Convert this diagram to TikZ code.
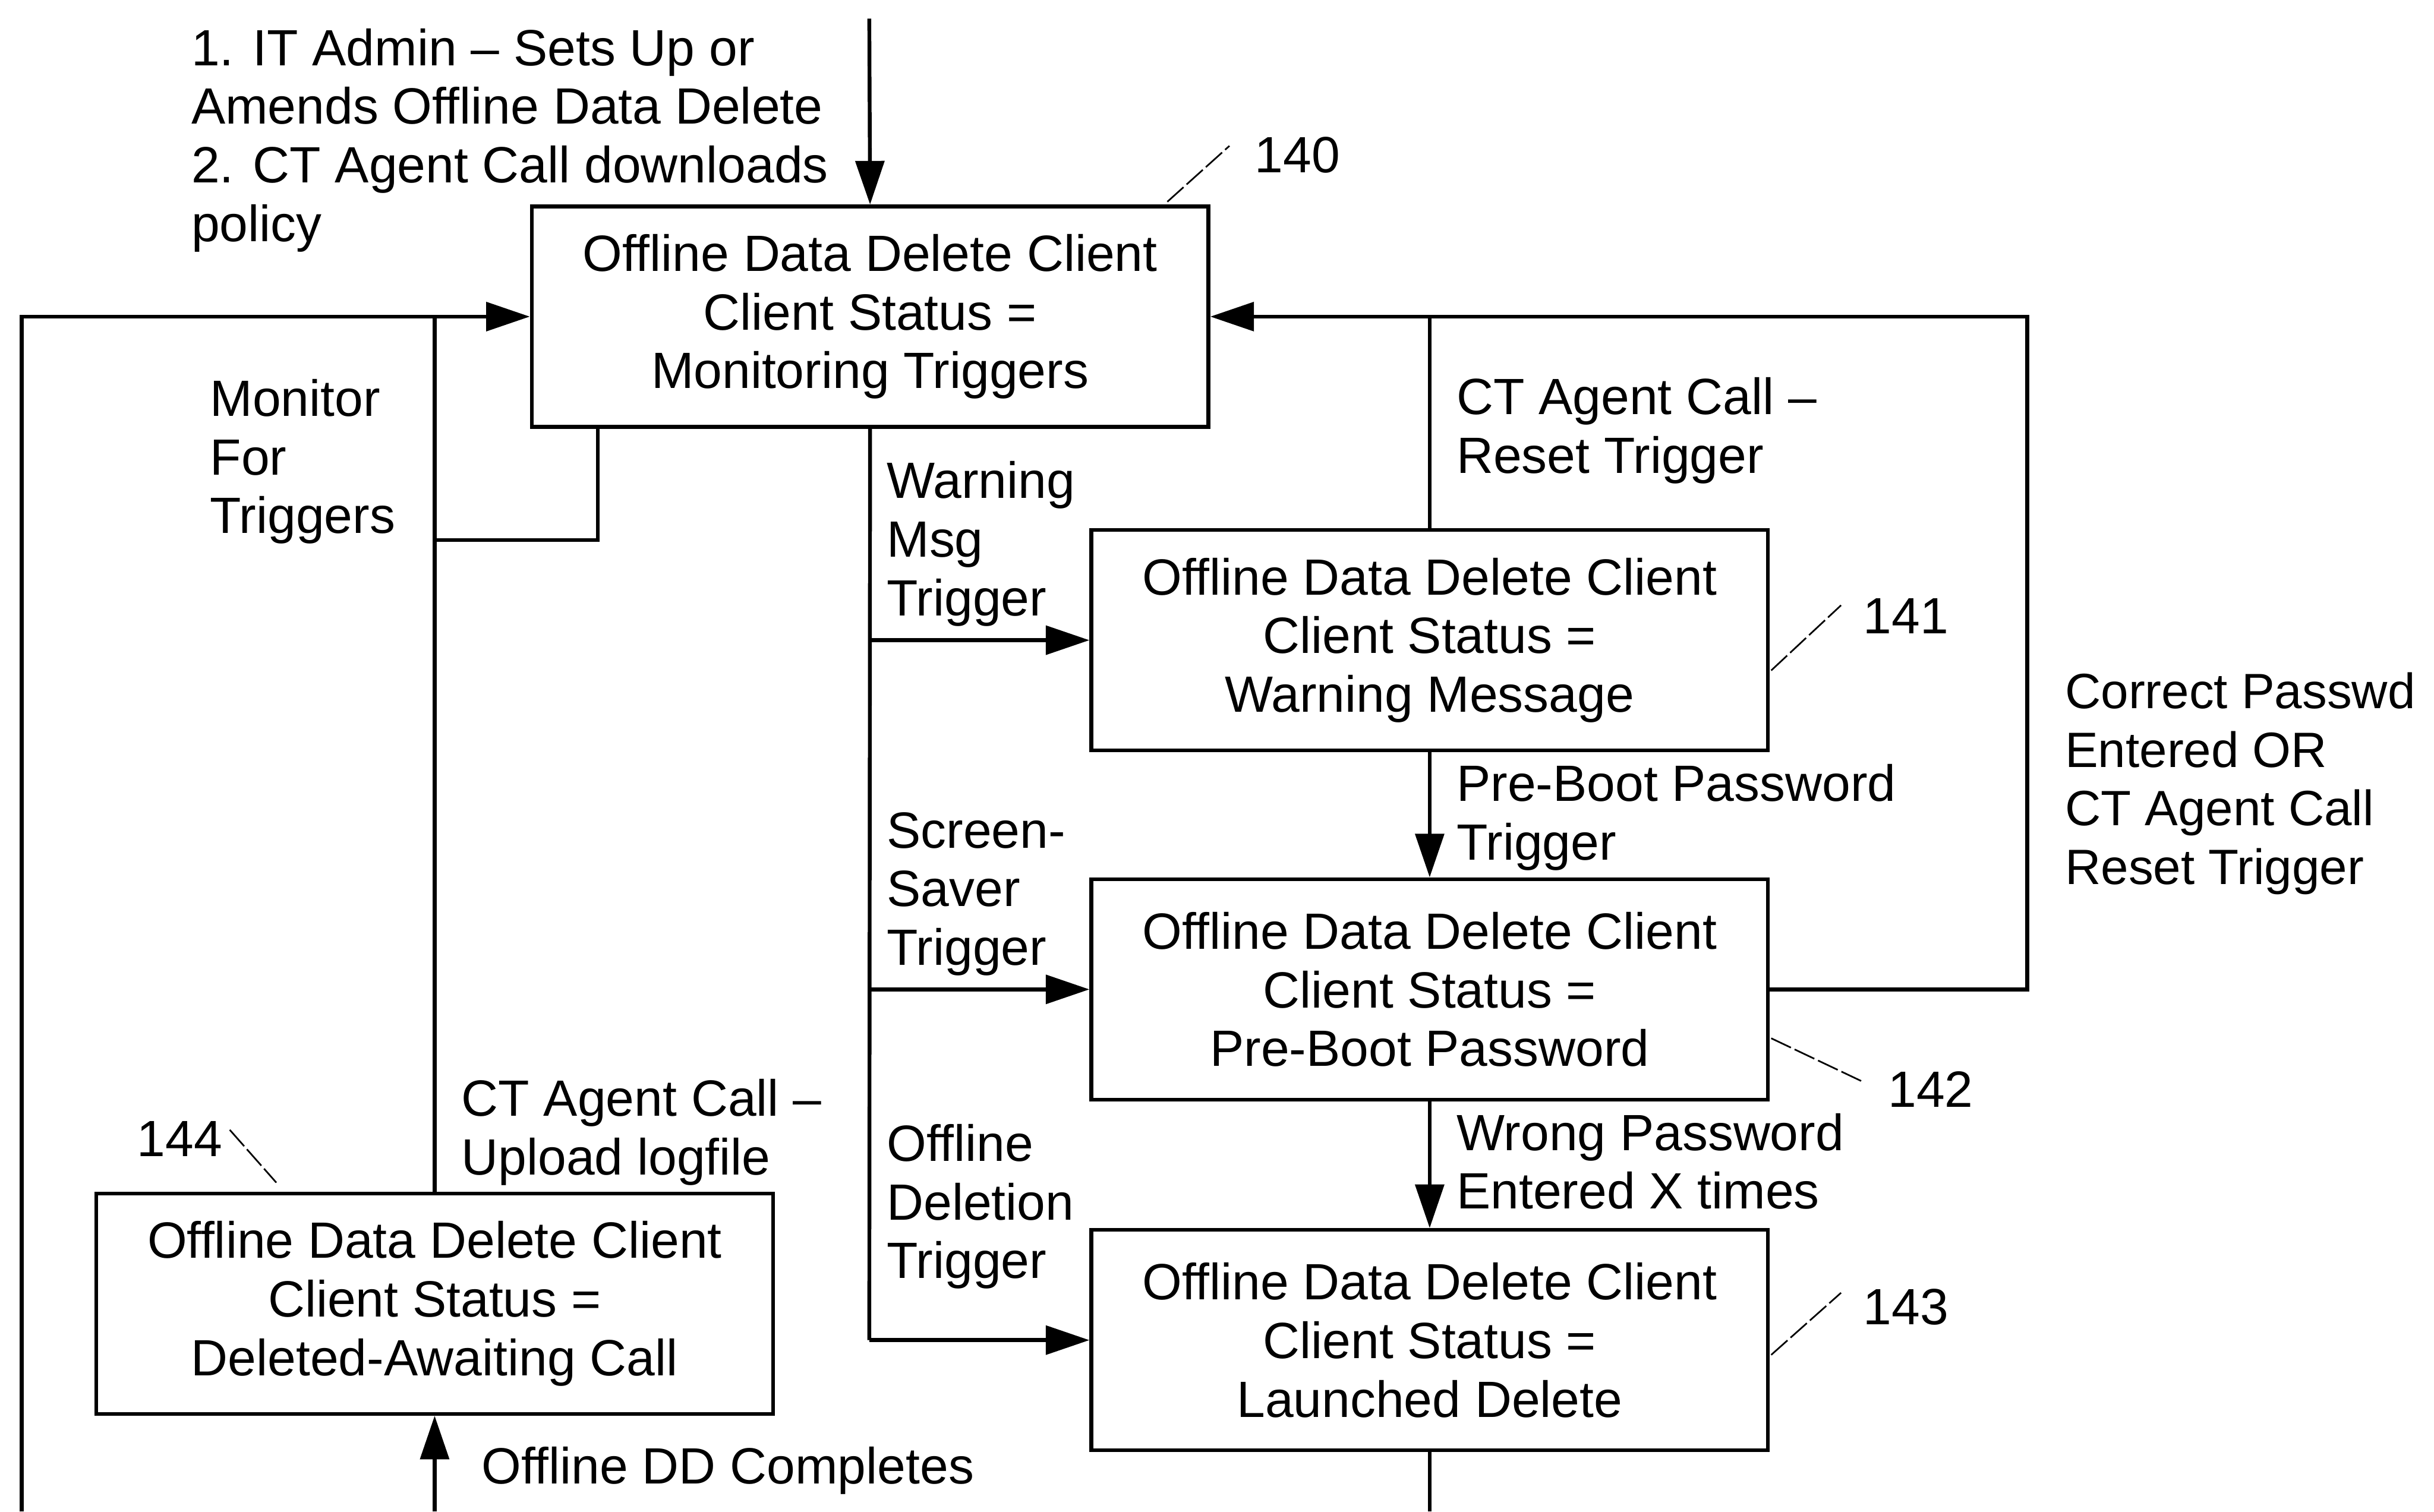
\documentclass[tikz,border=0pt]{standalone}
\usepackage{fontspec}
\setmainfont{Liberation Sans}
\usetikzlibrary{arrows.meta}
\begin{document}
\begin{tikzpicture}[x=0.02cm,y=-0.02cm,
  every node/.style={font=\fontsize{18.7}{21.5}\selectfont},
  statebox/.style={draw,line width=1.4pt,minimum width=8.72cm,minimum height=2.84cm,align=center,inner sep=0pt},
  lbl/.style={anchor=north west,align=left,inner sep=0pt},
  refnum/.style={anchor=west,inner sep=0pt},
  conn/.style={line width=1.4pt},
  arr/.style={line width=1.4pt,-{Triangle[length=16pt,width=10.5pt]}},
  lead/.style={line width=0.6pt,dash pattern=on 8pt off 1.5pt}]
\useasboundingbox (0,0) rectangle (1568,974);

% state boxes
\node[statebox] (b140) at (560.5,204) {Offline Data Delete Client\\Client Status =\\Monitoring Triggers};
\node[statebox] (b141) at (921,412.5) {Offline Data Delete Client\\Client Status =\\Warning Message};
\node[statebox] (b142) at (921,637.5) {Offline Data Delete Client\\Client Status =\\Pre-Boot Password};
\node[statebox] (b143) at (921,863.5) {Offline Data Delete Client\\Client Status =\\Launched Delete};
\node[statebox] (b144) at (280,840) {Offline Data Delete Client\\Client Status =\\Deleted-Awaiting Call};

% helper coordinates
\coordinate (intop) at (560,12);
\coordinate (m1) at (385,348);
\coordinate (m2) at (280,348);
\coordinate (j) at (280,204);
\coordinate (tl) at (14,204);
\coordinate (bl) at (14,974);
\coordinate (bm) at (280,974);
\coordinate (br) at (921,974);
\coordinate (t3) at (560,863.5);
\coordinate (r1) at (921,204);
\coordinate (c1) at (1306,637.5);
\coordinate (c2) at (1306,204);

% connectors
\draw[arr] (intop) -- (b140.north);
\draw[conn] (bl) -- (tl) -- (j);
\draw[conn] (b140.south -| m1) -- (m1) -- (m2);
\draw[arr] (b144.north) -- (j) -- (b140.west);
\draw[arr] (bm) -- (b144.south);
\draw[conn] (b143.south) -- (br);
\draw[conn] (b140.south) -- (t3);
\draw[arr] (b140.south |- b141.west) -- (b141.west);
\draw[arr] (b140.south |- b142.west) -- (b142.west);
\draw[arr] (t3) -- (b143.west);
\draw[arr] (b141.south) -- (b142.north);
\draw[arr] (b142.south) -- (b143.north);
\draw[arr] (b141.north) -- (r1) -- (b140.east);
\draw[conn] (b142.east) -- (c1) -- (c2) -- (r1);

% labels
\node[lbl] (lin) at (123,18) {1. IT Admin -- Sets Up or\\Amends Offline Data Delete\\2. CT Agent Call downloads\\policy};
\node[lbl] (lmon) at (135,244) {Monitor\\For\\Triggers};
\node[lbl] (lwarn) at (571,297) {Warning\\Msg\\Trigger};
\node[lbl] (lreset) at (938,243) {CT Agent Call --\\Reset Trigger};
\node[lbl,font=\fontsize{18.2}{21.5}\selectfont] (lcorr) at (1330,433) {Correct Passwd\\Entered OR\\CT Agent Call\\Reset Trigger};
\node[lbl] (lpre) at (938,492) {Pre-Boot Password\\Trigger};
\node[lbl] (lscr) at (571,523) {Screen-\\Saver\\Trigger};
\node[lbl] (lwrong) at (938,717) {Wrong Password\\Entered X times};
\node[lbl] (lup) at (297,695) {CT Agent Call --\\Upload logfile};
\node[lbl] (ldel) at (571,724) {Offline\\Deletion\\Trigger};
\node[lbl] (ldd) at (310,932) {Offline DD Completes};

% reference numerals
\node[refnum] (n140) at (808,100) {140};
\node[refnum] (n141) at (1200,397) {141};
\node[refnum] (n142) at (1216,702) {142};
\node[refnum] (n143) at (1200,842) {143};
\node[refnum] (n144) at (88,734) {144};
\draw[lead] (752,130) -- (792,94);
\draw[lead] (1141,432) -- (1186,390);
\draw[lead] (1141,669) -- (1200,697);
\draw[lead] (1141,873) -- (1186,833);
\draw[lead] (148,728) -- (178,762);
\end{tikzpicture}
\end{document}
